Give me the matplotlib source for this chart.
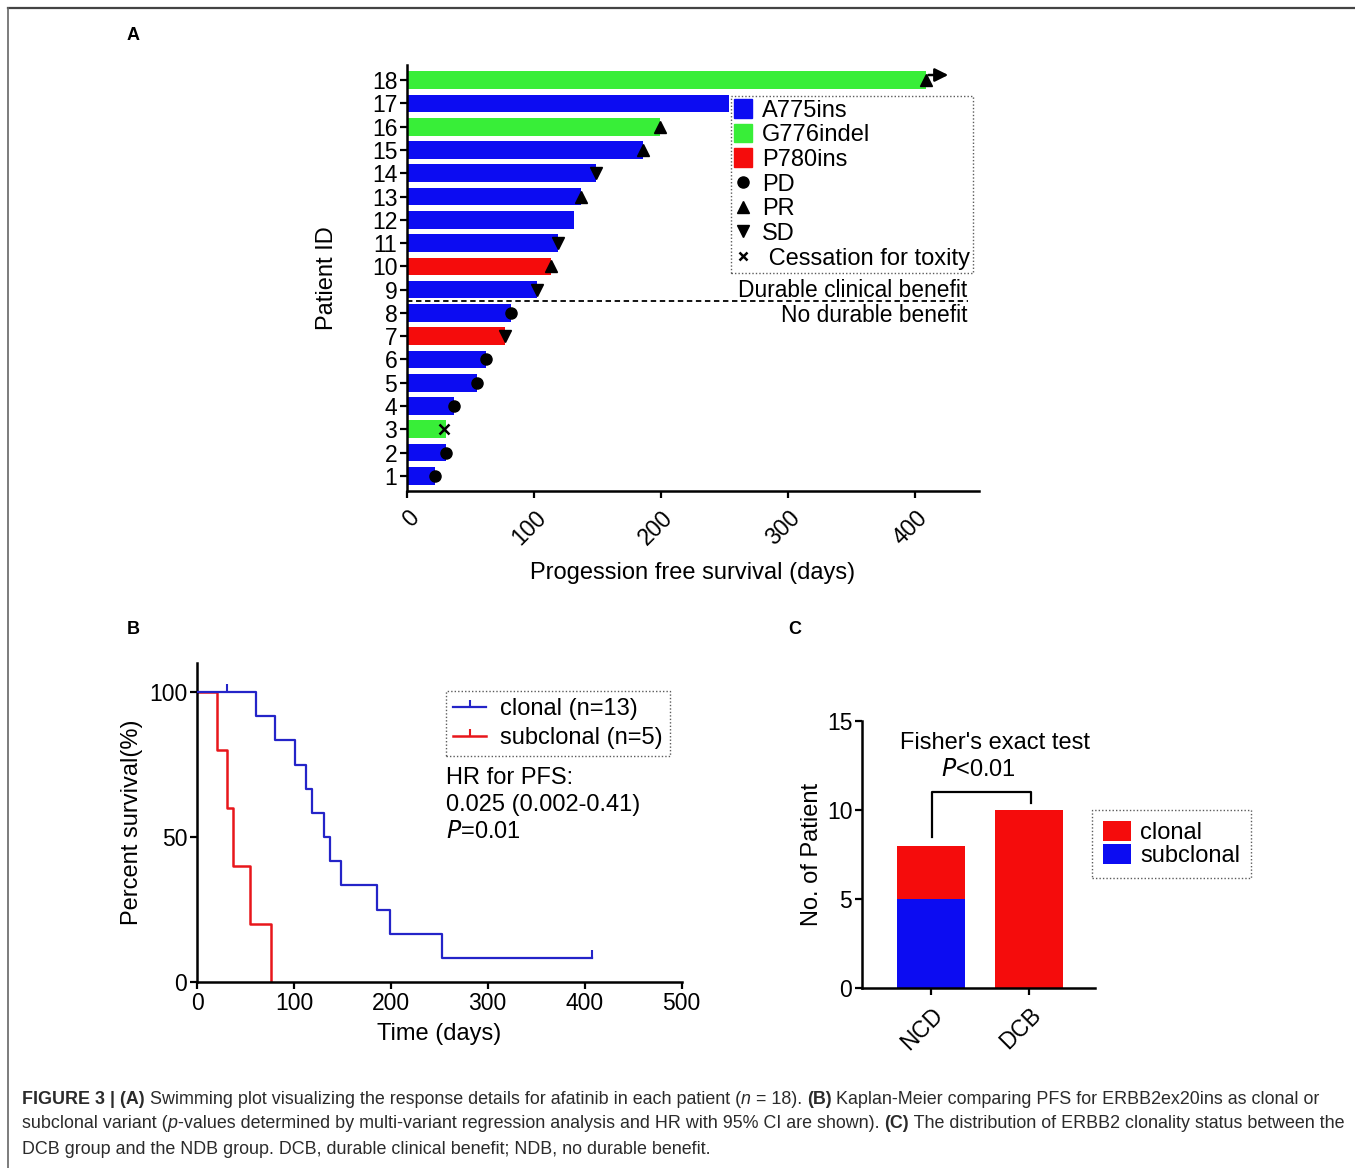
import numpy as np
import matplotlib
matplotlib.use("Agg")
import matplotlib.pyplot as plt
from matplotlib.patches import Patch
from matplotlib.lines import Line2D

plt.rcParams['font.family'] = ['Liberation Sans', 'DejaVu Sans']

# ---- panel A: swimming plot data ----
patient_ids = list(range(1, 19))
pfs_days = [22, 31, 31, 37, 55, 62, 77, 82, 102, 113, 119, 131, 137, 149, 186, 199, 253, 408]
mutation = ['A775ins', 'A775ins', 'G776indel', 'A775ins', 'A775ins', 'A775ins', 'P780ins',
            'A775ins', 'A775ins', 'P780ins', 'A775ins', 'A775ins', 'A775ins', 'A775ins',
            'A775ins', 'G776indel', 'A775ins', 'G776indel']
response = ['PD', 'PD', 'Tox', 'PD', 'PD', 'PD', 'SD', 'PD', 'SD', 'PR', 'SD', '',
            'PR', 'SD', 'PR', 'PR', '', 'PR']
ongoing_patient = 18
ongoing_arrow_end = 428

# ---- panel B: Kaplan-Meier steps ----
clonal_t = [0, 61, 81, 101, 113, 119, 131, 137, 149, 186, 199, 253, 408]
clonal_s = [100, 91.7, 83.3, 75.0, 66.7, 58.3, 50.0, 41.7, 33.3, 25.0, 16.7, 8.3, 8.3]
clonal_cens_t = [31, 408]
clonal_cens_s = [100, 8.3]
sub_t = [0, 21, 31, 37, 55, 76]
sub_s = [100, 80, 60, 40, 20, 0]

# ---- panel C: clonality counts ----
groups = ['NCD', 'DCB']
clonal_n = [3, 10]
subclonal_n = [5, 0]

mut_colors = {'A775ins': '#0c0cf2', 'G776indel': '#38ee38', 'P780ins': '#f50c0c'}
resp_markers = {'PD': 'o', 'PR': '^', 'SD': 'v', 'Tox': 'x'}

W, H = 1355, 1168
fig = plt.figure(figsize=(W / 100, H / 100), dpi=100)


def fx(px):
    return px / W


def fy(py):
    return 1 - py / H


FS = 17
TFS = 16.5


def style_axes(ax):
    for s in ('top', 'right'):
        ax.spines[s].set_visible(False)
    for s in ('left', 'bottom'):
        ax.spines[s].set_linewidth(1.8)
    ax.tick_params(width=1.6, length=5, labelsize=TFS, pad=2)


def dotted_frame(leg):
    fr = leg.get_frame()
    fr.set_linestyle((0, (1, 1.5)))
    fr.set_edgecolor('#333333')
    fr.set_linewidth(1.0)


# ================= Panel A =================
axA = fig.add_axes([fx(407), fy(491), fx(979 - 407), (491 - 65) / H])
style_axes(axA)
bar_cols = [mut_colors[m] for m in mutation]
axA.barh(patient_ids, pfs_days, height=0.76, color=bar_cols, zorder=2)
for pid, d, r in zip(patient_ids, pfs_days, response):
    if not r:
        continue
    if r == 'Tox':
        axA.plot(d - 2, pid, marker='x', color='k', ms=7, mew=1.8, zorder=4)
    else:
        axA.plot(d, pid, marker=resp_markers[r], color='k', ms=8, zorder=4)
axA.annotate('', xy=(ongoing_arrow_end, ongoing_patient + 0.22),
             xytext=(pfs_days[ongoing_patient - 1], ongoing_patient + 0.22),
             arrowprops=dict(arrowstyle='-|>', color='k', lw=1.8, mutation_scale=20))
axA.set_xlim(0, 450)
axA.set_ylim(0.35, 18.65)
axA.set_yticks(patient_ids)
axA.set_xticks([0, 100, 200, 300, 400])
axA.set_xticklabels(['0', '100', '200', '300', '400'], rotation=45, ha='right',
                    rotation_mode='anchor')
axA.tick_params(axis='x', pad=6)
axA.set_xlabel('Progession free survival (days)', fontsize=FS, labelpad=9)
axA.set_ylabel('Patient ID', fontsize=FS, labelpad=24)
axA.plot([0, 441], [8.5, 8.5], ls=(0, (3, 2)), color='k', lw=1.3, zorder=3)
axA.text(441, 8.98, 'Durable clinical benefit', ha='right', va='center', fontsize=16.4)
axA.text(441, 7.87, 'No durable benefit', ha='right', va='center', fontsize=16.4)

handlesA = [Patch(color=mut_colors[k], label=k) for k in ('A775ins', 'G776indel', 'P780ins')]
handlesA += [Line2D([], [], ls='none', marker='o', color='k', ms=8, label='PD'),
             Line2D([], [], ls='none', marker='^', color='k', ms=8, label='PR'),
             Line2D([], [], ls='none', marker='v', color='k', ms=8, label='SD'),
             Line2D([], [], ls='none', marker='x', color='k', ms=6, mew=1.8,
                    label=' Cessation for toxity')]
legA = axA.legend(handles=handlesA, loc='upper left', bbox_to_anchor=(0.566, 0.927),
                  fontsize=FS, frameon=True, fancybox=False, handlelength=0.8,
                  handleheight=0.85, handletextpad=0.4, labelspacing=0.09,
                  borderpad=0.12, borderaxespad=0)
dotted_frame(legA)

# ================= Panel B =================
axB = fig.add_axes([fx(197), fy(982), fx(681.5 - 197), (982 - 663) / H])
style_axes(axB)
axB.step(sub_t, sub_s, where='post', color='#e8161b', lw=1.8, zorder=2)
axB.step(clonal_t, clonal_s, where='post', color='#2424c8', lw=1.6, zorder=3)
axB.plot(clonal_cens_t, clonal_cens_s, ls='none', marker=2, ms=6, mew=1.5,
         color='#2424c8', zorder=3)
axB.set_xlim(0, 500)
axB.set_ylim(0, 110)
axB.set_xticks([0, 100, 200, 300, 400, 500])
axB.set_yticks([0, 50, 100])
axB.set_xlabel('Time (days)', fontsize=FS, labelpad=6)
axB.set_ylabel('Percent survival(%)', fontsize=FS, labelpad=4)
handlesB = [Line2D([], [], color='#2424c8', lw=1.6, marker=2, ms=5, mew=1.5,
                   label='clonal (n=13)'),
            Line2D([], [], color='#e8161b', lw=1.8, marker=2, ms=5, mew=1.5,
                   label='subclonal (n=5)')]
legB = axB.legend(handles=handlesB, loc='upper left',
                  bbox_to_anchor=((446 - 197) / 484.5, (982 - 691) / 319),
                  fontsize=FS, frameon=True, fancybox=False, handlelength=1.4,
                  handletextpad=0.6, labelspacing=0.3, borderpad=0.3,
                  borderaxespad=0)
dotted_frame(legB)
axB.text(257, 70.3, 'HR for PFS:', fontsize=FS, va='center')
axB.text(257, 61.0, '0.025 (0.002-0.41)', fontsize=FS, va='center')
axB.text(257, 51.7, '$\\it{P}$=0.01', fontsize=FS, va='center')

# ================= Panel C =================
axC = fig.add_axes([fx(862), fy(988), fx(1095 - 862), (988 - 721) / H])
style_axes(axC)
xc = np.arange(len(groups))
axC.bar(xc, subclonal_n, width=0.693, color='#0c0cf2', label='subclonal', zorder=2)
axC.bar(xc, clonal_n, width=0.693, bottom=subclonal_n, color='#f50c0c',
        label='clonal', zorder=2)
axC.set_xlim(-0.6995, 1.667)
axC.set_ylim(0, 15)
axC.set_yticks([0, 5, 10, 15])
axC.set_xticks(xc)
axC.set_xticklabels(groups, rotation=45, ha='right', rotation_mode='anchor')
axC.tick_params(axis='x', pad=6)
axC.set_ylabel('No. of Patient', fontsize=FS, labelpad=3)
axC.plot([0.01, 0.01, 1.02, 1.02], [8.5, 11.03, 11.03, 10.38], color='k', lw=1.6,
         clip_on=False)
axC.text(0.652, 13.76, "Fisher's exact test", ha='center', va='center', fontsize=FS)
axC.text(0.48, 12.25, '$\\it{P}$<0.01', ha='center', va='center', fontsize=FS)
hC, lC = axC.get_legend_handles_labels()
legC = axC.legend(hC[::-1], lC[::-1], loc='upper left',
                  bbox_to_anchor=((1092 - 862) / 233, (988 - 810) / 267),
                  fontsize=FS, frameon=True, fancybox=False, handlelength=1.2,
                  handleheight=0.95, handletextpad=0.4, labelspacing=0.0,
                  borderpad=0.45, borderaxespad=0)
dotted_frame(legC)

# ---- panel letters ----
for lab, px, py in (('A', 133, 35), ('B', 133, 630), ('C', 795, 630)):
    fig.text(fx(px), fy(py), lab, fontsize=13, fontweight='bold', ha='center', va='center')

# ---- border lines ----
fig.add_artist(Line2D([fx(8), 1], [fy(8), fy(8)], color='#444444', lw=1.6))
fig.add_artist(Line2D([fx(8), fx(8)], [fy(8), 0], color='#666666', lw=1.2))

# ---- caption ----
renderer = fig.canvas.get_renderer()
cap_fs = 12.9
cap_col = '#2b2b2b'
lines = [
    [('FIGURE 3 | (A)', 'bold', 'normal'),
     (' Swimming plot visualizing the response details for afatinib in each patient (', 'normal', 'normal'),
     ('n', 'normal', 'italic'),
     (' = 18). ', 'normal', 'normal'),
     ('(B)', 'bold', 'normal'),
     (' Kaplan-Meier comparing PFS for ERBB2ex20ins as clonal or', 'normal', 'normal')],
    [('subclonal variant (', 'normal', 'normal'),
     ('p', 'normal', 'italic'),
     ('-values determined by multi-variant regression analysis and HR with 95% CI are shown). ', 'normal', 'normal'),
     ('(C)', 'bold', 'normal'),
     (' The distribution of ERBB2 clonality status between the', 'normal', 'normal')],
    [('DCB group and the NDB group. DCB, durable clinical benefit; NDB, no durable benefit.', 'normal', 'normal')],
]
for i, parts in enumerate(lines):
    x = fx(22)
    y = fy(1099 + 25 * i)
    for txt, wt, st in parts:
        t = fig.text(x, y, txt, fontsize=cap_fs, fontweight=wt, fontstyle=st,
                     color=cap_col, va='center', ha='left')
        x += t.get_window_extent(renderer).width / fig.bbox.width

fig.savefig('out.png', dpi=100)
